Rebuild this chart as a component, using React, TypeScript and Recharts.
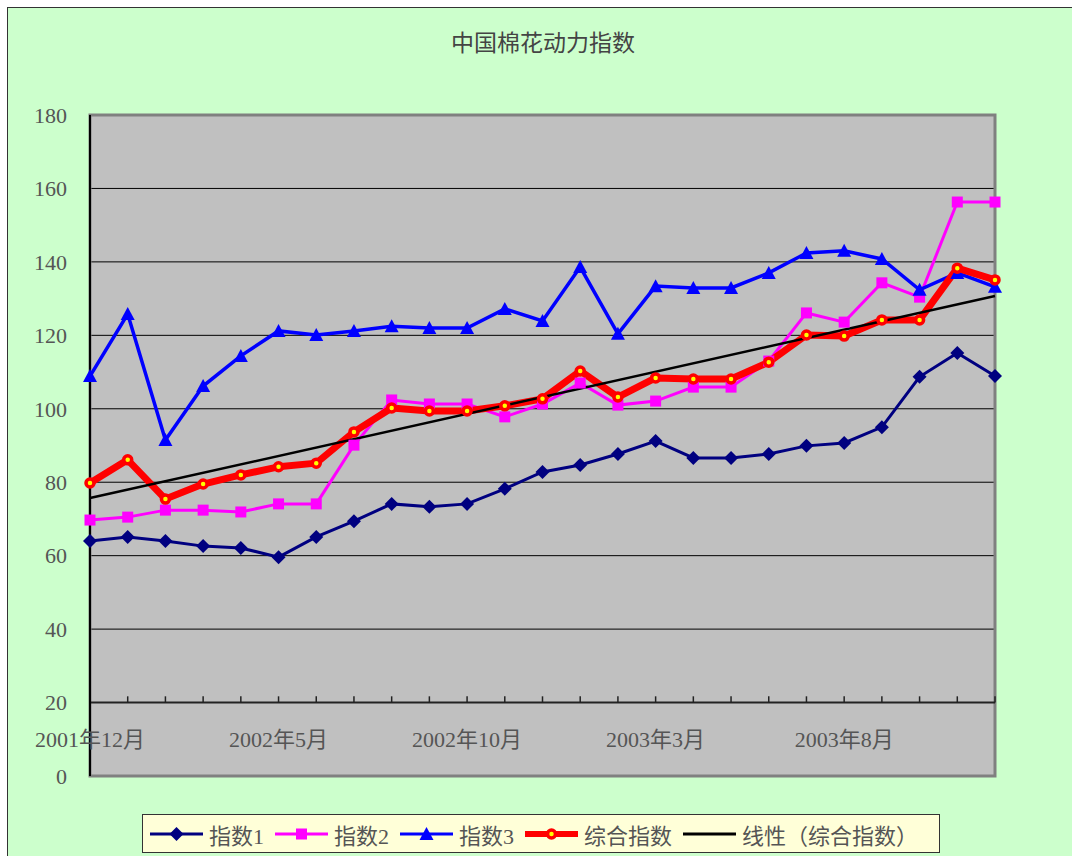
import React from "react";
import {
  LineChart,
  Line,
  XAxis,
  YAxis,
  CartesianGrid,
  ReferenceLine,
  ReferenceArea,
  Legend,
} from "recharts";

const months = [
  "2001年12月", "2002年1月", "2002年2月", "2002年3月", "2002年4月",
  "2002年5月", "2002年6月", "2002年7月", "2002年8月", "2002年9月",
  "2002年10月", "2002年11月", "2002年12月", "2003年1月", "2003年2月",
  "2003年3月", "2003年4月", "2003年5月", "2003年6月", "2003年7月",
  "2003年8月", "2003年9月", "2003年10月", "2003年11月", "2003年12月",
];

const index1 = [
  64.0, 65.1, 64.0, 62.6, 62.1, 59.6, 65.1, 69.4, 74.1, 73.3, 74.1, 78.2, 82.8,
  84.7, 87.7, 91.2, 86.6, 86.6, 87.7, 89.9, 90.7, 95.0, 108.7, 115.2, 108.9,
];
const index2 = [
  69.7, 70.5, 72.4, 72.4, 71.9, 74.1, 74.1, 90.1, 102.4, 101.3, 101.3, 97.8, 101.3,
  107.0, 101.0, 102.1, 105.9, 105.9, 113.0, 126.1, 123.6, 134.3, 130.4, 156.3, 156.3,
];
const index3 = [
  108.9, 125.8, 91.5, 106.2, 114.4, 121.2, 120.1, 121.2, 122.5, 122.0, 122.0, 127.2, 123.9,
  138.6, 120.4, 133.4, 132.9, 132.9, 137.0, 142.4, 143.0, 140.8, 132.4, 137.0, 133.2,
];
const composite = [
  79.8, 86.1, 75.4, 79.5, 82.0, 84.2, 85.2, 93.7, 100.2, 99.4, 99.4, 100.8, 102.7,
  110.3, 103.2, 108.4, 108.1, 108.1, 112.7, 120.1, 119.8, 124.2, 124.2, 138.3, 135.1,
];
// trend line end values
const trendEnds = [75.7, 130.7];

const yTicks = [0, 20, 40, 60, 80, 100, 120, 140, 160, 180];
const gridValues = [40, 60, 80, 100, 120, 140, 160];

const data = months.map((m, i) => ({
  month: m,
  i1: index1[i],
  i2: index2[i],
  i3: index3[i],
  comp: composite[i],
  trend: i === 0 ? trendEnds[0] : i === months.length - 1 ? trendEnds[1] : null,
}));

const FONT = "'Liberation Serif', 'Noto Sans CJK SC', serif";
const TEXT = "#555";

const Diamond = ({ cx, cy, fill, s = 7 }: any) => (
  <polygon points={`${cx},${cy - s} ${cx + s},${cy} ${cx},${cy + s} ${cx - s},${cy}`} fill={fill} />
);
const Square = ({ cx, cy, fill, s = 5.5 }: any) => (
  <rect x={cx - s} y={cy - s} width={s * 2} height={s * 2} fill={fill} />
);
const Triangle = ({ cx, cy, fill, s = 7 }: any) => (
  <polygon points={`${cx},${cy - s} ${cx + s},${cy + s - 1} ${cx - s},${cy + s - 1}`} fill={fill} />
);
const Ring = ({ cx, cy }: any) => (
  <circle cx={cx} cy={cy} r={4} fill="#FFFF00" stroke="#FF0000" strokeWidth={3.5} />
);

const dotFor = (Shape: any, fill: string) => (p: any) => (
  <Shape key={`d-${p.index}`} cx={p.cx} cy={p.cy} fill={fill} />
);

const legendOrder = ["i1", "i2", "i3", "comp", "trend"];
const legendItems: Record<string, { color: string; width: number; mark?: any }> = {
  i1: { color: "#000080", width: 3, mark: Diamond },
  i2: { color: "#FF00FF", width: 3, mark: Square },
  i3: { color: "#0000FF", width: 3, mark: Triangle },
  comp: { color: "#FF0000", width: 6, mark: Ring },
  trend: { color: "#000000", width: 3 },
};

const LegendBox = ({ payload }: any) => {
  const entries = [...(payload || [])].sort(
    (a: any, b: any) => legendOrder.indexOf(a.dataKey) - legendOrder.indexOf(b.dataKey)
  );
  return (
    <div
      style={{
        boxSizing: "border-box",
        width: "100%",
        height: "100%",
        border: "1.5px solid #333",
        background: "#FFFFD8",
        display: "flex",
        alignItems: "center",
        paddingLeft: 7,
        fontFamily: FONT,
        fontSize: 22,
        color: TEXT,
      }}
    >
      {entries.map((e: any) => {
        const it = legendItems[e.dataKey];
        const M = it.mark;
        return (
          <div key={e.dataKey} style={{ display: "flex", alignItems: "center", marginRight: 11 }}>
            <svg width={53} height={18}>
              <line x1={0} y1={9} x2={53} y2={9} stroke={it.color} strokeWidth={it.width} />
              {M ? <M cx={26.5} cy={9} fill={it.color} /> : null}
            </svg>
            <span style={{ marginLeft: 6, whiteSpace: "nowrap" }}>{e.value}</span>
          </div>
        );
      })}
    </div>
  );
};

const XTick = ({ x, y, payload }: any) => (
  <text x={x} y={y - 37} textAnchor="middle" fill={TEXT} fontSize={22} fontFamily={FONT}>
    {payload.value}
  </text>
);

export default function App() {
  return (
    <div style={{ position: "absolute", left: 0, top: 0, width: 1072, height: 856, background: "#fff", overflow: "hidden" }}>
      <div
        style={{
          position: "absolute",
          left: 7,
          top: 7,
          width: 1070,
          height: 855,
          background: "#CCFFCC",
          borderLeft: "1.5px solid #333",
          borderTop: "1.5px solid #333",
        }}
      />
      <div
        style={{
          position: "absolute",
          left: 0,
          top: 24,
          width: 1086,
          textAlign: "center",
          fontFamily: FONT,
          fontSize: 23,
          color: "#444",
        }}
      >
        中国棉花动力指数
      </div>
      <div style={{ position: "absolute", left: 0, top: 0 }}>
        <LineChart width={1072} height={856} data={data} margin={{ top: 115, right: 77, bottom: 50, left: 30 }}>
          <CartesianGrid horizontal vertical={false} horizontalValues={gridValues} stroke="#000" fill="#C0C0C0" />
          <ReferenceArea
            x1={months[0]}
            x2={months[months.length - 1]}
            y1={0}
            y2={180}
            fill="none"
            stroke="#808080"
            strokeWidth={3}
          />
          <XAxis
            dataKey="month"
            interval={4}
            axisLine={false}
            tickLine={false}
            height={30}
            tick={<XTick />}
          />
          <YAxis
            domain={[0, 180]}
            ticks={yTicks}
            width={60}
            axisLine={{ stroke: "#000", strokeWidth: 2 }}
            tickLine={false}
            tickMargin={17}
            tick={{ fill: TEXT, fontSize: 22, fontFamily: FONT }}
          />
          <ReferenceLine y={20} stroke="#222" strokeWidth={2} />
          {months.map((m) => (
            <ReferenceLine
              key={m}
              segment={[{ x: m, y: 20 }, { x: m, y: 21.7 }]}
              stroke="#222"
              strokeWidth={1.5}
            />
          ))}
          <Line dataKey="i1" name="指数1" stroke="#000080" strokeWidth={3} dot={dotFor(Diamond, "#000080")} isAnimationActive={false} />
          <Line dataKey="i2" name="指数2" stroke="#FF00FF" strokeWidth={3} dot={dotFor(Square, "#FF00FF")} isAnimationActive={false} />
          <Line dataKey="i3" name="指数3" stroke="#0000FF" strokeWidth={3.5} dot={dotFor(Triangle, "#0000FF")} isAnimationActive={false} />
          <Line dataKey="comp" name="综合指数" stroke="#FF0000" strokeWidth={7} strokeLinejoin="round" dot={dotFor(Ring, "#FF0000")} isAnimationActive={false} />
          <Line dataKey="trend" name="线性（综合指数）" stroke="#000" strokeWidth={2.5} dot={false} connectNulls isAnimationActive={false} />
          <Legend
            layout="horizontal"
            verticalAlign="middle"
            align="center"
            content={<LegendBox />}
            wrapperStyle={{ left: 142, top: 814, width: 798, height: 39 }}
          />
        </LineChart>
      </div>
    </div>
  );
}
